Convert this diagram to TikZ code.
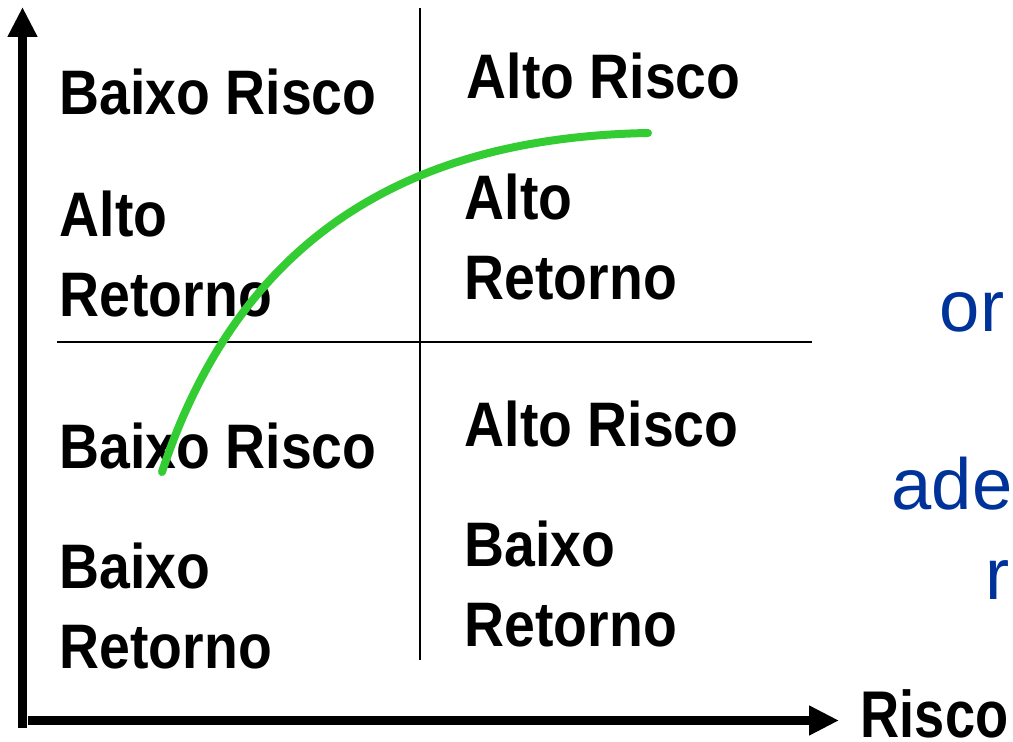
\documentclass[tikz,border=0pt]{standalone}
\usepackage{fontspec}
\setmainfont{Liberation Sans}
\newfontfamily\quadfont{Liberation Sans}[FakeStretch=0.88]
\newfontfamily\axisfont{Liberation Sans}[FakeStretch=0.82]
\usetikzlibrary{arrows.meta}
\definecolor{curvegreen}{RGB}{51,204,51}
\definecolor{noteblue}{RGB}{0,51,153}

\begin{document}
\begin{tikzpicture}[
    quad/.style={font=\quadfont\bfseries\fontsize{17.9pt}{22.8pt}\selectfont,
      align=left, anchor=base west, inner sep=0pt},
    note/.style={font=\fontsize{20.6pt}{25pt}\selectfont, text=noteblue,
      anchor=base east, inner sep=0pt},
    axis/.style={line width=0.09cm, -{Triangle[length=0.3cm, width=0.28cm]}}]
  \useasboundingbox (0, 0) rectangle (10.13, 7.42);
  % axes
  \coordinate (origin) at (0.225, 0.14);
  \coordinate (ytip) at (0.225, 7.35);
  \coordinate (xstart) at (0.28, 0.215);
  \coordinate (xtip) at (8.39, 0.215);
  \draw[axis] (origin) -- (ytip);
  \draw[axis] (xstart) -- (xtip);
  \node[font=\axisfont\bfseries\fontsize{18.8pt}{22pt}\selectfont,
    anchor=base west, inner sep=0pt] (risk) at (8.60, 0.04) {Risco};
  % quadrant dividers
  \coordinate (vtop) at (4.20, 7.34);
  \coordinate (vbot) at (4.20, 0.82);
  \coordinate (hleft) at (0.57, 4.00);
  \coordinate (hright) at (8.12, 4.00);
  \draw[line width=0.6pt] (vtop) -- (vbot);
  \draw[line width=0.6pt] (hleft) -- (hright);
  % quadrant texts (two-line nodes sit on the baseline of their last line)
  \node[quad] (tlhead) at (0.59, 6.27) {Baixo Risco};
  \node[quad] (tlbody) at (0.59, 4.25) {Alto\\Retorno};
  \node[quad] (trhead) at (4.66, 6.43) {Alto Risco};
  \node[quad] (trbody) at (4.64, 4.42) {Alto\\Retorno};
  \node[quad] (blhead) at (0.59, 2.73) {Baixo Risco};
  \node[quad] (blbody) at (0.59, 0.73) {Baixo\\Retorno};
  \node[quad] (brhead) at (4.64, 2.95) {Alto Risco};
  \node[quad] (brbody) at (4.64, 0.95) {Baixo\\Retorno};
  % risk/return curve
  \coordinate (clow) at (1.62, 2.70);
  \coordinate (chigh) at (6.48, 6.09);
  \draw[curvegreen, line width=0.08cm, line cap=round]
    (clow) .. controls (2.48, 5.30) and (4.40, 6.05) .. (chigh);
  % clipped notes at the right edge
  \node[note] (n1) at (10.05, 4.10) {or};
  \node[note] (n2) at (10.13, 2.32) {ade};
  \node[note] (n3) at (10.10, 1.42) {r};
\end{tikzpicture}
\end{document}
